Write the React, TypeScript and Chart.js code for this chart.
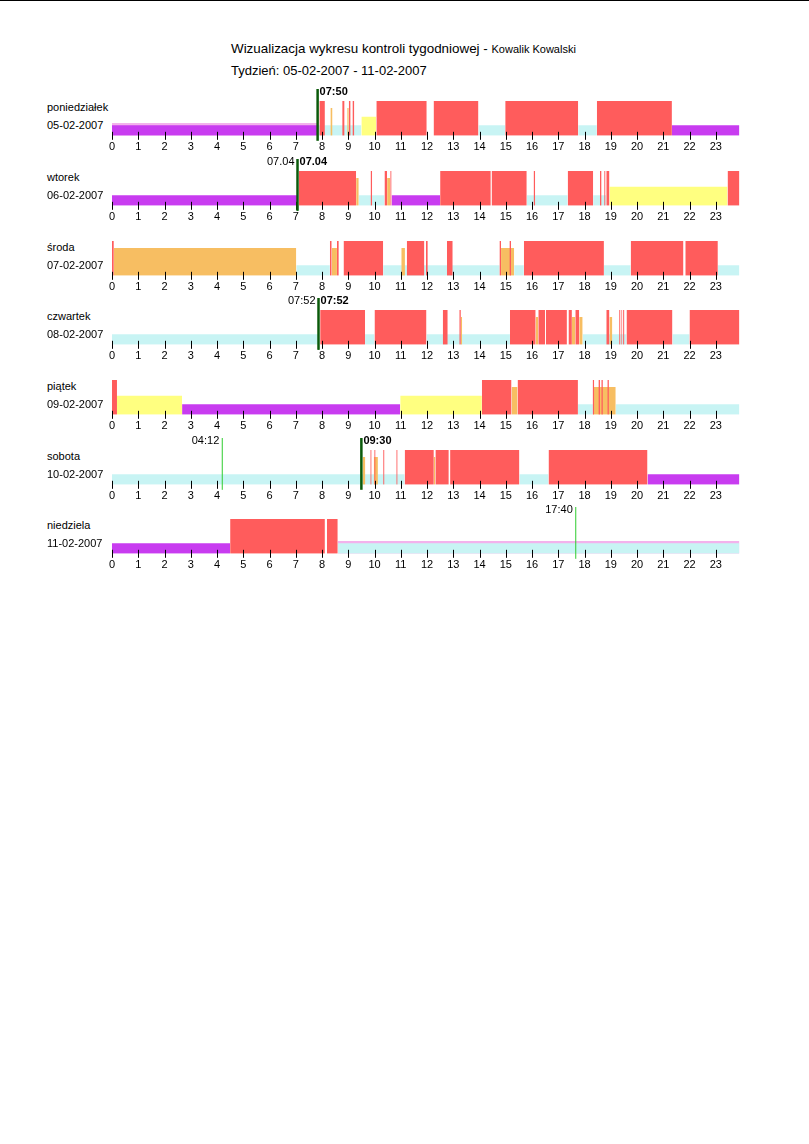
import React, { useEffect, useRef } from "react";
import { Chart, registerables } from "chart.js";

Chart.register(...registerables);

type Seg = [number, number, string];
type Mark = [number, string, string];

// activity codes: D driving (red), W other work (orange), A availability (yellow),
// R rest (purple), U unknown / no card (cyan), P pink band
const hourTicks = ["0","1","2","3","4","5","6","7","8","9","10","11","12","13","14","15","16","17","18","19","20","21","22","23"];
const dayNames = ["poniedziałek", "wtorek", "środa", "czwartek", "piątek", "sobota", "niedziela"];
const dayDates = ["05-02-2007", "06-02-2007", "07-02-2007", "08-02-2007", "09-02-2007", "10-02-2007", "11-02-2007"];

const mondaySegs: Seg[] = [
  [0, 7.82, "P"], [0, 7.82, "R"], [7.83, 9.5, "U"], [7.9, 8.11, "D"], [8.32, 8.4, "W"],
  [8.77, 8.86, "D"], [8.96, 9.02, "W"], [9.02, 9.09, "D"], [9.16, 9.23, "D"], [9.5, 10.06, "A"],
  [10.07, 11.99, "D"], [12.25, 13.96, "D"], [13.96, 14.98, "U"], [14.98, 17.76, "D"],
  [17.76, 18.47, "U"], [18.47, 21.33, "D"], [21.33, 23.9, "R"],
];
const tuesdaySegs: Seg[] = [
  [0, 7.06, "R"], [7.12, 9.3, "D"], [9.3, 9.4, "W"], [9.4, 10.38, "U"], [9.85, 9.91, "D"],
  [10.38, 10.48, "D"], [10.48, 10.6, "W"], [10.6, 10.65, "D"], [10.65, 12.5, "R"],
  [12.5, 14.43, "D"], [14.46, 15.8, "D"], [15.8, 17.36, "U"], [16.06, 16.12, "D"],
  [17.36, 18.33, "D"], [18.33, 18.83, "U"], [18.59, 18.65, "D"], [18.75, 18.8, "D"],
  [18.83, 18.95, "D"], [18.95, 23.45, "A"], [23.45, 23.9, "D"],
];
const wednesdaySegs: Seg[] = [
  [0, 0.07, "D"], [0.07, 7.02, "W"], [7.02, 8.3, "U"], [8.3, 8.37, "D"], [8.37, 8.57, "W"],
  [8.57, 8.64, "D"], [8.82, 10.33, "D"], [10.33, 14.77, "U"], [11.02, 11.16, "W"],
  [11.23, 11.9, "D"], [11.96, 12.03, "D"], [12.76, 12.98, "D"], [14.76, 14.82, "D"],
  [14.82, 15.32, "W"], [15.14, 15.2, "D"], [15.32, 15.69, "U"], [15.69, 18.74, "D"],
  [18.74, 19.76, "U"], [19.76, 21.77, "D"], [21.84, 23.08, "D"], [23.08, 23.9, "U"],
];
const thursdaySegs: Seg[] = [
  [0, 7.85, "U"], [7.93, 9.64, "D"], [9.64, 10.0, "U"], [10.0, 11.98, "D"], [11.98, 15.16, "U"],
  [12.6, 12.79, "D"], [13.23, 13.29, "D"], [13.29, 13.34, "W"], [15.16, 16.14, "D"],
  [16.14, 16.24, "W"], [16.24, 16.5, "D"], [16.53, 17.33, "D"], [17.39, 17.52, "D"],
  [17.52, 17.65, "W"], [17.65, 17.8, "D"], [17.8, 17.93, "W"], [17.93, 19.6, "U"],
  [18.83, 18.95, "D"], [18.95, 19.06, "W"], [19.32, 19.37, "D"], [19.4, 19.44, "D"],
  [19.47, 19.52, "D"], [19.6, 21.35, "D"], [21.35, 22.0, "U"], [22.0, 23.9, "D"],
];
const fridaySegs: Seg[] = [
  [0, 0.19, "D"], [0.19, 2.67, "A"], [2.67, 10.98, "R"], [10.98, 14.09, "A"], [14.09, 15.22, "D"],
  [15.22, 15.45, "W"], [15.45, 17.75, "D"], [17.75, 18.32, "U"], [18.32, 19.19, "W"],
  [18.31, 18.37, "D"], [18.53, 18.59, "D"], [18.64, 18.7, "D"], [18.87, 18.93, "D"],
  [19.19, 23.9, "U"],
];
const saturdaySegs: Seg[] = [
  [0, 11.15, "U"], [9.55, 9.65, "W"], [9.84, 9.89, "D"], [9.97, 10.13, "W"], [9.99, 10.04, "D"],
  [10.33, 10.38, "D"], [10.83, 10.88, "D"], [11.15, 12.26, "D"], [12.26, 12.32, "W"],
  [12.32, 12.83, "D"], [12.88, 15.52, "D"], [15.52, 16.63, "U"], [16.63, 20.4, "D"],
  [20.4, 23.9, "R"],
];
const sundaySegs: Seg[] = [
  [0, 4.5, "R"], [4.5, 8.11, "D"], [8.19, 8.6, "D"], [8.6, 23.9, "P"], [8.6, 23.9, "U"],
];

const daySegs: Seg[][] = [mondaySegs, tuesdaySegs, wednesdaySegs, thursdaySegs, fridaySegs, saturdaySegs, sundaySegs];

// markers: [hour, kind, label]  start = dark green bold label right, end = light green label left
const dayMarks: Mark[][] = [
  [[7.833, "start", "07:50"]],
  [[7.067, "end", "07.04"], [7.067, "start", "07.04"]],
  [],
  [[7.867, "end", "07:52"], [7.867, "start", "07:52"]],
  [],
  [[4.2, "end", "04:12"], [9.5, "start", "09:30"]],
  [[17.667, "end", "17:40"]],
];

const levels: Record<string, number> = { P: 0.37, U: 0.3, R: 0.3, A: 0.55, W: 0.8, D: 1 };
const colors: Record<string, string> = {
  P: "#f3b2ec", U: "#c8f4f4", R: "#c83cf0", A: "#ffff80", W: "#f7be62", D: "#ff5c5c",
};
const drawOrder = ["P", "U", "R", "A", "W", "D"];

const FONT = '"Liberation Sans", Arial, sans-serif';
const rowBottoms = [136, 206, 276, 345, 415, 485, 554];

function buildPoints(segs: Seg[], t: string) {
  const lvl = levels[t];
  return segs
    .filter((s) => s[2] === t)
    .sort((a, b) => a[0] - b[0])
    .flatMap(([s, e]) => [
      { x: s, y: lvl },
      { x: e, y: lvl },
      { x: e, y: null },
    ]);
}

const decorPlugin = {
  id: "dayDecor",
  afterDatasetsDraw(chart: any, _args: any, opts: any) {
    const { ctx, chartArea } = chart;
    const x = chart.scales.x;
    ctx.save();
    ctx.strokeStyle = "#000";
    ctx.lineWidth = 1;
    x.ticks.forEach((t: any) => {
      if (t.value > 23) return;
      const px = Math.round(x.getPixelForValue(t.value)) + 0.5;
      ctx.beginPath();
      ctx.moveTo(px, chartArea.bottom - 4);
      ctx.lineTo(px, chartArea.bottom + 4);
      ctx.stroke();
    });
    const marks: Mark[] = opts.marks || [];
    const sorted = [...marks].sort((a, b) => (a[1] === "end" ? -1 : 1) - (b[1] === "end" ? -1 : 1));
    sorted.forEach(([h, kind, label]) => {
      const px = x.getPixelForValue(h);
      const top = chartArea.top - 12;
      const bot = chartArea.bottom + 5;
      ctx.beginPath();
      if (kind === "start") {
        ctx.strokeStyle = "#0a5a0a";
        ctx.lineWidth = 2.5;
      } else {
        ctx.strokeStyle = "#2ecc2e";
        ctx.lineWidth = 1;
      }
      ctx.moveTo(px, top);
      ctx.lineTo(px, bot);
      ctx.stroke();
      ctx.fillStyle = "#000";
      ctx.textBaseline = "middle";
      if (kind === "start") {
        ctx.font = `bold 11px ${FONT}`;
        ctx.textAlign = "left";
        ctx.fillText(label, px + 2, top + 3);
      } else {
        ctx.font = `11px ${FONT}`;
        ctx.textAlign = "right";
        ctx.fillText(label, px - 3, top + 3);
      }
    });
    ctx.restore();
  },
};

function DayChart({ idx }: { idx: number }) {
  const ref = useRef<HTMLCanvasElement>(null);
  const bottom = rowBottoms[idx];
  useEffect(() => {
    const segs = daySegs[idx];
    const datasets = drawOrder.map((t, i) => ({
      type: "line" as const,
      label: t,
      data: buildPoints(segs, t) as any,
      backgroundColor: colors[t],
      borderColor: "rgba(0,0,0,0)",
      borderWidth: 0,
      pointRadius: 0,
      fill: "origin",
      spanGaps: false,
      tension: 0,
      order: drawOrder.length - i,
    }));
    const chart = new Chart(ref.current as HTMLCanvasElement, {
      type: "line",
      data: { datasets },
      options: {
        animation: false,
        responsive: false,
        events: [],
        layout: { padding: { left: 112, right: 67, top: 16, bottom: 0 } },
        scales: {
          x: {
            type: "linear",
            min: 0,
            max: 24,
            grid: { display: false, drawTicks: false },
            border: { display: false },
            ticks: {
              stepSize: 1,
              autoSkip: false,
              maxRotation: 0,
              padding: 5,
              color: "#000",
              font: { size: 11, family: FONT },
              callback: (v: any) => hourTicks[v as number] ?? "",
            },
          },
          y: { min: 0, max: 1, display: false },
        },
        plugins: {
          legend: { display: false },
          tooltip: { enabled: false },
          dayDecor: { marks: dayMarks[idx] },
        } as any,
      },
      plugins: [decorPlugin],
    });
    return () => chart.destroy();
  }, [idx]);
  return (
    <>
      <div style={{ position: "absolute", left: 47, top: bottom - 36, fontSize: 11, lineHeight: "14px", whiteSpace: "nowrap" }}>
        {dayNames[idx]}
      </div>
      <div style={{ position: "absolute", left: 47, top: bottom - 18, fontSize: 11, lineHeight: "14px", whiteSpace: "nowrap" }}>
        {dayDates[idx]}
      </div>
      <canvas
        ref={ref}
        width={809}
        height={74}
        style={{ position: "absolute", left: 0, top: bottom - 51, width: 809, height: 74 }}
      />
    </>
  );
}

export default function App() {
  return (
    <div
      style={{
        position: "absolute",
        left: 0,
        top: 0,
        width: 809,
        height: 1140,
        overflow: "hidden",
        background: "#fff",
        fontFamily: FONT,
        color: "#000",
      }}
    >
      <div style={{ position: "absolute", left: 0, top: 0, width: 809, height: 1, background: "#000" }} />
      <div style={{ position: "absolute", left: 231, top: 41, fontSize: 13.4, lineHeight: "16px", whiteSpace: "nowrap" }}>
        Wizualizacja wykresu kontroli tygodniowej - <span style={{ fontSize: 11 }}>Kowalik Kowalski</span>
      </div>
      <div style={{ position: "absolute", left: 231, top: 63, fontSize: 13, lineHeight: "16px", whiteSpace: "nowrap" }}>
        Tydzień: 05-02-2007 - 11-02-2007
      </div>
      {dayNames.map((_, i) => (
        <DayChart key={i} idx={i} />
      ))}
    </div>
  );
}
